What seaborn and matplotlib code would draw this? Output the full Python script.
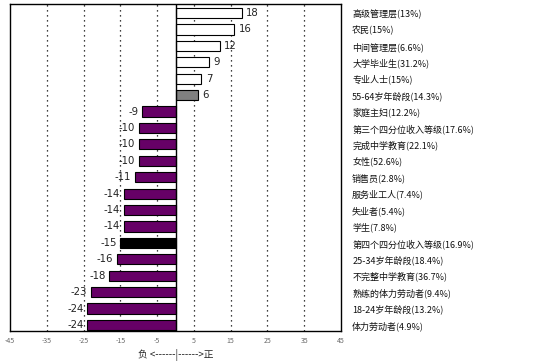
import matplotlib
matplotlib.use("Agg")
import matplotlib.pyplot as plt
import seaborn as sns
import pandas as pd

categories = [
    "高级管理层(13%)", "农民(15%)", "中间管理层(6.6%)", "大学毕业生(31.2%)",
    "专业人士(15%)", "55-64岁年龄段(14.3%)", "家庭主妇(12.2%)",
    "第三个四分位收入等级(17.6%)", "完成中学教育(22.1%)", "女性(52.6%)",
    "销售员(2.8%)", "服务业工人(7.4%)", "失业者(5.4%)", "学生(7.8%)",
    "第四个四分位收入等级(16.9%)", "25-34岁年龄段(18.4%)", "不完整中学教育(36.7%)",
    "熟练的体力劳动者(9.4%)", "18-24岁年龄段(13.2%)", "体力劳动者(4.9%)",
]
values = [18, 16, 12, 9, 7, 6, -9, -10, -10, -10, -11, -14, -14, -14, -15, -16, -18, -23, -24, -24]
x_ticks = [-45, -35, -25, -15, -5, 5, 15, 25, 35, 45]

colors = []
for c, v in zip(categories, values):
    if c.startswith("55-64"):
        colors.append("#808080")
    elif c.startswith("第四个"):
        colors.append("#000000")
    elif v > 0:
        colors.append("#ffffff")
    else:
        colors.append("#660066")

sns.set_theme(style="white")
plt.rcParams["font.family"] = ["Noto Sans CJK SC", "DejaVu Sans"]

df = pd.DataFrame({"cat": categories, "val": values})
fig = plt.figure(figsize=(5.53, 3.61), dpi=100)
ax = fig.add_axes([10 / 553, 1 - 331 / 361, (341 - 10) / 553, (331 - 4) / 361])

sns.barplot(data=df, y="cat", x="val", hue="cat", palette=dict(zip(categories, colors)),
            legend=False, orient="h", width=0.62, ax=ax, saturation=1)
for p in ax.patches:
    p.set_edgecolor("black")
    p.set_linewidth(0.8)

for i, v in enumerate(values):
    if v > 0:
        ax.text(v + 1.2, i, str(v), va="center", ha="left", fontsize=7.3, color="#222222",
                family="DejaVu Sans")
    else:
        ax.text(v - 1.0, i, str(v), va="center", ha="right", fontsize=7.3, color="#222222",
                family="DejaVu Sans")

ax.set_xlim(-45, 45)
ax.set_ylim(len(values) - 1 + 0.37, -0.55)
ax.set_xticks(x_ticks)
ax.set_xticklabels([str(t) for t in x_ticks], fontsize=5, color="#666666")
for t in x_ticks[1:-1]:
    ax.axvline(t, color="black", linestyle=(0, (1, 3)), linewidth=0.9, zorder=0)
ax.axvline(0, color="black", linewidth=1.0, zorder=3)

ax.yaxis.tick_right()
ax.tick_params(axis="y", length=0, pad=8, labelsize=6.5, colors="#111111")
ax.tick_params(axis="x", length=0, pad=4)
ax.set_ylabel("")
ax.set_xlabel("负 <------|------>正", fontsize=7, labelpad=3)
for s in ax.spines.values():
    s.set_visible(True)
    s.set_color("black")
    s.set_linewidth(1.0)

fig.savefig("out.png", dpi=100)
